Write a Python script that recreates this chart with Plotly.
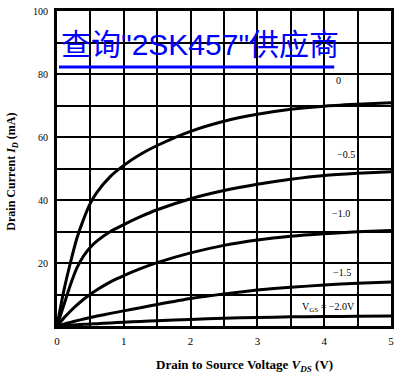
import plotly.graph_objects as go

# Data
vds = [0, 0.1, 0.2, 0.3, 0.4, 0.5, 0.6, 0.8, 1.0, 1.25, 1.5, 2, 2.5, 3, 3.5, 4, 4.5, 5]
id_vgs_0 = [0, 11, 20, 28, 34, 39, 42.5, 47.5, 51, 54.5, 57.3, 61.8, 65, 67.2, 68.8, 69.8, 70.4, 70.9]
id_vgs_m05 = [0, 6.5, 13, 18.5, 22.3, 25, 27, 30, 32.2, 34.7, 36.9, 40.4, 43, 45, 46.6, 47.8, 48.5, 49]
id_vgs_m10 = [0, 2.5, 4.7, 6.7, 8.5, 10.1, 11.5, 14, 16, 18.2, 20.1, 23.2, 25.6, 27.3, 28.5, 29.3, 29.9, 30.3]
id_vgs_m15 = [0, 0.6, 1.15, 1.7, 2.2, 2.7, 3.15, 4.0, 4.8, 5.8, 6.8, 8.7, 10.2, 11.4, 12.3, 13.0, 13.6, 14]
id_vgs_m20 = [0, 0.15, 0.28, 0.4, 0.52, 0.63, 0.75, 0.97, 1.2, 1.45, 1.7, 2.1, 2.45, 2.7, 2.9, 3.0, 3.1, 3.2]

series = [id_vgs_0, id_vgs_m05, id_vgs_m10, id_vgs_m15, id_vgs_m20]
curve_labels = ["0", "−0.5", "−1.0", "−1.5", "V<sub>GS</sub> = −2.0V"]
label_x = [4.22, 4.33, 4.25, 4.27, 4.07]
label_y = [78, 54.3, 35.6, 17.1, 6]

x_ticks = [0, 1, 2, 3, 4, 5]
y_ticks = [20, 40, 60, 80, 100]

serif = "Liberation Serif, DejaVu Serif, serif"

fig = go.Figure()
for ys in series:
    fig.add_trace(go.Scatter(x=vds, y=ys, mode="lines",
                             line=dict(color="black", width=3, shape="spline", smoothing=0.6),
                             showlegend=False, hoverinfo="skip"))

for t, lx, ly in zip(curve_labels, label_x, label_y):
    fig.add_annotation(x=lx, y=ly, xref="x", yref="y", text=t, showarrow=False,
                       font=dict(family=serif, size=10, color="black"))

# axis titles
fig.add_annotation(xref="paper", yref="paper", x=0, y=0.49, xshift=-45,
                   xanchor="center", yanchor="middle",
                   text="<b>Drain Current <i>I<sub>D</sub></i> (mA)</b>", textangle=-90,
                   showarrow=False, font=dict(family=serif, size=12, color="black"))
fig.add_annotation(xref="paper", yref="paper", x=0.56, y=0, yshift=-39,
                   xanchor="center", yanchor="middle",
                   text="<b>Drain to Source Voltage <i>V<sub>DS</sub></i> (V)</b>",
                   showarrow=False, font=dict(family=serif, size=13, color="black"))

# blue watermark text
fig.add_annotation(xref="paper", yref="paper", x=0.006, y=0.895, xanchor="left", yanchor="middle",
                   text='查询"2SK457"供应商', showarrow=False,
                   font=dict(family="Liberation Sans, Noto Sans CJK SC, sans-serif", size=30, color="#0000ff"))
fig.add_shape(type="line", xref="paper", yref="paper", x0=0.006, x1=0.83, y0=0.822, y1=0.822,
              line=dict(color="#0000ff", width=3))

fig.update_xaxes(range=[0, 5], tickvals=x_ticks, ticktext=[str(v) for v in x_ticks],
                 showgrid=True, gridcolor="black", gridwidth=2,
                 minor=dict(dtick=0.5, showgrid=True, gridcolor="black", gridwidth=1.5),
                 showline=True, linecolor="black", linewidth=3, mirror=True,
                 zeroline=False, ticks="", ticklabelstandoff=3, automargin=False,
                 tickfont=dict(family=serif, size=11, color="black"))
fig.update_yaxes(range=[0, 100], tickvals=y_ticks, ticktext=[str(v) for v in y_ticks],
                 showgrid=True, gridcolor="black", gridwidth=2,
                 minor=dict(dtick=10, showgrid=True, gridcolor="black", gridwidth=1.5),
                 showline=True, linecolor="black", linewidth=3, mirror=True,
                 zeroline=False, ticks="", ticklabelstandoff=4, automargin=False,
                 tickfont=dict(family=serif, size=10, color="black"))

fig.update_layout(width=395, height=373, margin=dict(l=57, r=4, t=11, b=47, autoexpand=False),
                  plot_bgcolor="white", paper_bgcolor="white")

fig.write_html("out.html", config={"displayModeBar": False},
               post_script="document.body.style.margin='0';")
